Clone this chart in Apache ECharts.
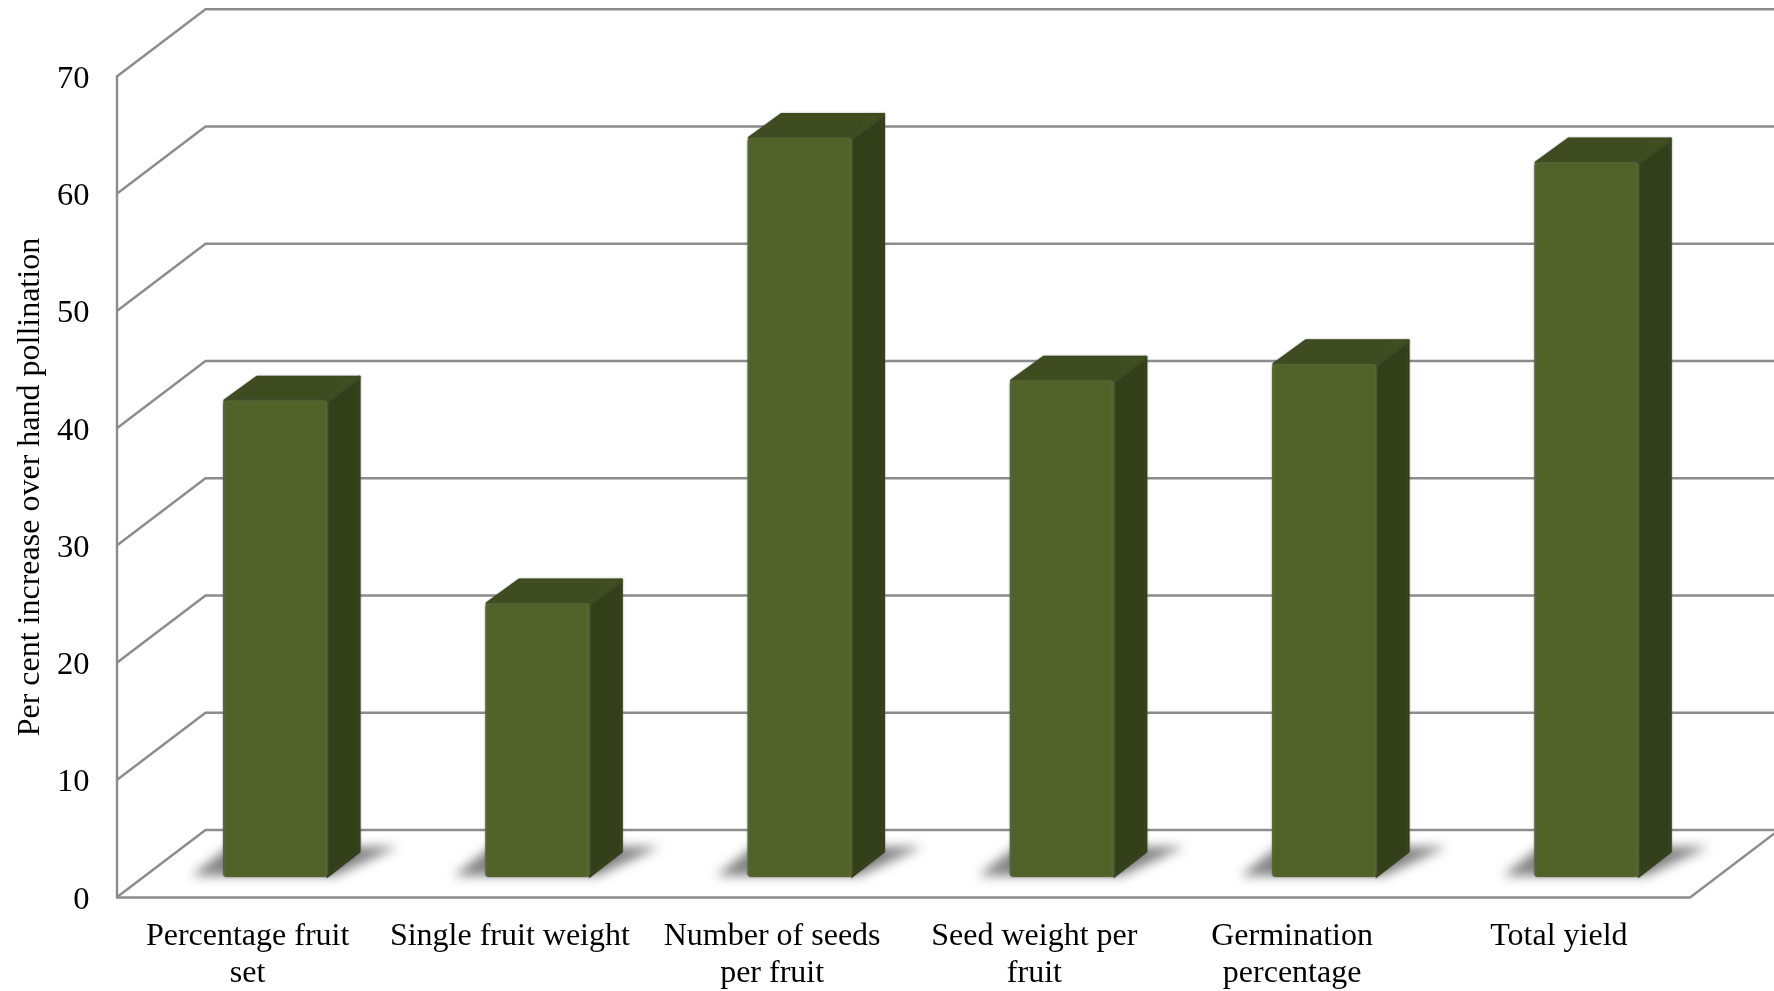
<!DOCTYPE html>
<html>
<head>
<meta charset="utf-8">
<style>html,body{margin:0;padding:0;background:#fff}#chart{width:1774px;height:991px}</style>
<script src="https://cdn.jsdelivr.net/npm/echarts@6/dist/echarts.min.js"></script>
</head>
<body>
<div id="chart"></div>
<script>
// Pollination response: per cent increase over hand pollination
const categories = [
  'Percentage fruit\nset',
  'Single fruit weight',
  'Number of seeds\nper fruit',
  'Seed weight per\nfruit',
  'Germination\npercentage',
  'Total yield'
];
const values = [40.6, 23.3, 63.0, 42.3, 43.7, 60.9];
const wallTicks = [10, 20, 30, 40, 50, 60, 70];
const yAxisTitle = 'Per cent increase over hand pollination';

// Pseudo-3D box geometry, in pixels
const WALL_DX = 89, WALL_DY = -67.5;       // depth of the floor and side wall
const BAR_DX = 27.4, BAR_DY = -20.8;       // where a bar stands on the floor
const BOX_DX = 33.3, BOX_DY = -25;         // depth of a bar
const BAR_RATIO = 0.398;                   // bar width relative to its band
const SHADOW_SHIFT = 3000;                 // the caster sits off-canvas so only its blur shows
const GERMINATION_PAD = 9;                 // this two-line label sits slightly left of its band

const font = '"Liberation Serif", "Times New Roman", serif';
const lineColor = '#8c8c8c';
const lineWidth = 2.4;

function wallLine(params, api) {
  const p = api.coord([0, api.value(1)]);
  const rect = params.coordSys;
  const x0 = rect.x, y0 = p[1];
  return {
    type: 'polyline',
    silent: true,
    shape: { points: [[x0, y0], [x0 + WALL_DX, y0 + WALL_DY], [rect.x + rect.width + WALL_DX, y0 + WALL_DY]] },
    style: { fill: null, stroke: lineColor, lineWidth }
  };
}

function floorEdge(params) {
  const r = params.coordSys;
  const yb = r.y + r.height;
  return {
    type: 'polyline',
    silent: true,
    shape: { points: [
      [r.x, yb], [r.x + WALL_DX, yb + WALL_DY], [r.x + r.width + WALL_DX, yb + WALL_DY]
    ] },
    style: { fill: null, stroke: lineColor, lineWidth }
  };
}

function floorFront(params) {
  const r = params.coordSys;
  const yb = r.y + r.height;
  return {
    type: 'polyline',
    silent: true,
    shape: { points: [
      [r.x, yb], [r.x + r.width, yb], [r.x + r.width + WALL_DX, yb + WALL_DY]
    ] },
    style: { fill: null, stroke: lineColor, lineWidth }
  };
}

function barFootprint(api) {
  const base = api.coord([api.value(0), 0]);
  const half = api.size([1, 0])[0] * BAR_RATIO / 2;
  return { L: base[0] + BAR_DX - half, R: base[0] + BAR_DX + half, B: base[1] + BAR_DY };
}

function barShadow(params, api) {
  const f = barFootprint(api);
  const s = SHADOW_SHIFT;
  return {
    type: 'polygon',
    silent: true,
    shape: { points: [
      [f.L - 31 - s, f.B - 1], [f.L + 6 - s, f.B - 30], [f.R + 70 - s, f.B - 30], [f.R + 8 - s, f.B - 1]
    ] },
    style: {
      fill: '#000',
      shadowBlur: 11,
      shadowOffsetX: s,
      shadowColor: 'rgba(125,125,125,0.95)'
    }
  };
}

function bar3d(params, api) {
  const f = barFootprint(api);
  const top = api.coord([api.value(0), api.value(1)])[1] + BAR_DY;
  const L = f.L, R = f.R, B = f.B;
  return {
    type: 'group',
    silent: true,
    children: [
      {
        type: 'polygon',
        shape: { points: [[R, top], [R + BOX_DX - 1, top + BOX_DY + 1], [R + BOX_DX - 1, B + BOX_DY], [R, B]] },
        style: {
          fill: '#333f18', stroke: '#333f18', lineWidth: 2, lineJoin: 'round',
          shadowBlur: 2, shadowColor: 'rgba(90,90,90,0.7)'
        }
      },
      {
        type: 'polygon',
        shape: { points: [[L + 2, top], [L + BOX_DX + 1, top + BOX_DY + 1.5], [R + BOX_DX - 1.5, top + BOX_DY + 1.5], [R, top]] },
        style: {
          fill: { type: 'linear', x: 0, y: 0, x2: 1, y2: 0, colorStops: [
            { offset: 0, color: '#3e4b1e' }, { offset: 0.8, color: '#3e4b1e' }, { offset: 1, color: '#445321' }
          ] },
          stroke: '#3e4b1e', lineWidth: 3, lineJoin: 'round',
          shadowBlur: 2, shadowColor: 'rgba(90,90,90,0.6)'
        }
      },
      {
        type: 'rect',
        shape: { x: L + 1, y: top + 0.5, width: R - L - 1.5, height: B - top - 1, r: 3 },
        style: {
          fill: { type: 'linear', x: 0, y: 0, x2: 1, y2: 0, colorStops: [
            { offset: 0, color: '#566a2b' }, { offset: 0.04, color: '#516228' },
            { offset: 0.96, color: '#516228' }, { offset: 1, color: '#5a6e2e' }
          ] },
          stroke: '#546729', lineWidth: 1.5,
          shadowBlur: 2, shadowColor: 'rgba(90,90,90,0.7)'
        }
      }
    ]
  };
}

const barData = values.map((v, i) => [i, v]);
const xAxisData = categories.map((name, i) =>
  i === 4 ? { value: name, textStyle: { padding: [0, GERMINATION_PAD, 0, 0] } } : name
);

const chart = echarts.init(document.getElementById('chart'), null, { renderer: 'canvas' });
chart.setOption({
  animation: false,
  backgroundColor: '#ffffff',
  grid: { left: 116.5, right: 84, top: 76.7, bottom: 93.5, containLabel: false, outerBoundsMode: 'none' },
  xAxis: {
    type: 'category',
    data: xAxisData,
    axisLine: { show: false },
    axisTick: { show: false },
    axisLabel: {
      interval: 0, color: '#000', fontFamily: font, fontSize: 32,
      lineHeight: 36.6, margin: 21
    }
  },
  yAxis: {
    type: 'value',
    min: 0, max: 70, interval: 10,
    name: yAxisTitle,
    nameLocation: 'middle',
    nameRotate: 90,
    nameGap: 66,
    nameTextStyle: { color: '#000', fontFamily: font, fontSize: 32 },
    axisLine: { show: true, lineStyle: { color: lineColor, width: lineWidth } },
    axisTick: { show: false },
    splitLine: { show: false },
    // a short top-aligned line box drops the digits just under each tick height
    axisLabel: { color: '#000', fontFamily: font, fontSize: 32.5, margin: 27, verticalAlign: 'top', lineHeight: 5 }
  },
  series: [
    { type: 'custom', renderItem: wallLine, data: wallTicks.map(v => [0, v]), clip: false, z: 1, silent: true },
    { type: 'custom', renderItem: floorEdge, data: [[0, 0]], clip: false, z: 1, silent: true },
    { type: 'custom', renderItem: floorFront, data: [[0, 0]], clip: false, z: 1, silent: true },
    { type: 'custom', renderItem: barShadow, data: barData, clip: false, z: 2, silent: true },
    { type: 'custom', renderItem: bar3d, data: barData, clip: false, z: 3, silent: true }
  ]
});
</script>
</body>
</html>
